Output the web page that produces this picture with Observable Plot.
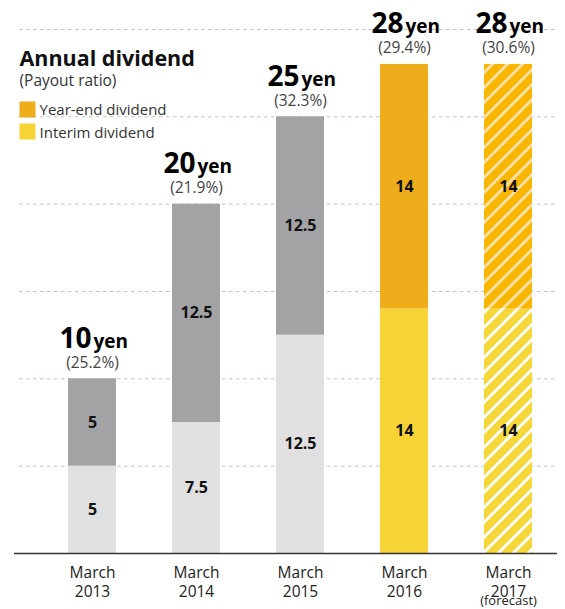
<!DOCTYPE html>
<html><head><meta charset="utf-8">
<script src="https://cdn.jsdelivr.net/npm/d3@7"></script>
<script src="https://cdn.jsdelivr.net/npm/@observablehq/plot@0.6"></script>
<style>body{margin:0;background:#fff;font-family:"Open Sans",sans-serif}</style>
</head><body><div id="chart"></div>
<script>
const categories = ["March\n2013", "March\n2014", "March\n2015", "March\n2016", "March\n2017"];
const interimDividend = [5, 7.5, 12.5, 14, 14];
const yearEndDividend = [5, 12.5, 12.5, 14, 14];
const annualDividend = [10, 20, 25, 28, 28];
const payoutRatio = ["(25.2%)", "(21.9%)", "(32.3%)", "(29.4%)", "(30.6%)"];
const forecastNote = ["", "", "", "", "(forecast)"];
const gridTicks = [5, 10, 15, 20, 25, 30];
const legendLabels = ["Year-end dividend", "Interim dividend"];
const titleText = "Annual dividend";
const subtitleText = "(Payout ratio)";
const unitText = "yen";

const FONT = "Open Sans";
const grayDark = "#a3a3a5", grayLight = "#e0e0e0", orange = "#eeae1c", yellow = "#f6d436";

const rows = categories.map((c, i) => ({
  cat: c, i,
  interim: interimDividend[i],
  yearEnd: yearEndDividend[i],
  total: annualDividend[i],
  payout: payoutRatio[i],
  note: forecastNote[i]
}));
const grayRows = rows.filter(d => d.i < 3);
const actualRows = rows.filter(d => d.i === 3);
const forecastRows = rows.filter(d => d.note !== "");

const segText = {fontFamily: FONT, fontWeight: "bold", fontSize: 16, fill: "#111"};

const plot = Plot.plot({
  width: 565, height: 609,
  marginLeft: 14, marginRight: 8, marginTop: 29, marginBottom: 56,
  style: {fontFamily: FONT, background: "#fff", overflow: "visible"},
  x: {domain: categories, paddingInner: 0.54, paddingOuter: 0.368, align: 0.688, axis: null},
  y: {domain: [0, 30], axis: null},
  marks: [
    Plot.ruleY(gridTicks, {stroke: "#cbbfbf", strokeDasharray: "3.5,3.5", insetLeft: 5}),
    // gray bars
    Plot.barY(grayRows, {x: "cat", y1: 0, y2: "interim", fill: grayLight}),
    Plot.barY(grayRows, {x: "cat", y1: "interim", y2: "total", fill: grayDark}),
    // actual colored
    Plot.barY(actualRows, {x: "cat", y1: 0, y2: "interim", fill: yellow}),
    Plot.barY(actualRows, {x: "cat", y1: "interim", y2: "total", fill: orange}),
    // forecast hatched
    Plot.barY(forecastRows, {x: "cat", y1: 0, y2: "interim", fill: "url(#hatchYellow)"}),
    Plot.barY(forecastRows, {x: "cat", y1: "interim", y2: "total", fill: "url(#hatchOrange)"}),
    Plot.ruleY([0], {stroke: "#333", strokeWidth: 1.6}),
    // segment labels
    Plot.text(rows, {x: "cat", y: d => d.interim / 2, text: d => String(d.interim), ...segText}),
    Plot.text(rows, {x: "cat", y: d => d.interim + d.yearEnd / 2, text: d => String(d.yearEnd), ...segText}),
    // totals
    Plot.text(rows, {x: "cat", y: "total", text: d => String(d.total), lineAnchor: "bottom", textAnchor: "end", dx: -1, dy: -31, fontFamily: FONT, fontWeight: "bold", fontSize: 28, fill: "#000"}),
    Plot.text(rows, {x: "cat", y: "total", text: () => unitText, lineAnchor: "bottom", textAnchor: "start", dx: 1, dy: -31, fontFamily: FONT, fontWeight: "bold", fontSize: 19, fill: "#000"}),
    Plot.text(rows, {x: "cat", y: "total", text: "payout", lineAnchor: "bottom", dy: -11, fontFamily: FONT, fontSize: 15.5, fill: "#444"}),
    // x labels
    Plot.text(rows, {x: "cat", text: "cat", frameAnchor: "bottom", lineAnchor: "top", dy: 11, fontFamily: FONT, fontSize: 15.5, lineHeight: 1.21, fill: "#222"}),
    Plot.text(forecastRows, {x: "cat", text: "note", frameAnchor: "bottom", lineAnchor: "bottom", dy: 51.5, fontFamily: FONT, fontSize: 13, fill: "#222"}),
    // title & legend
    Plot.text([titleText], {text: d => d, frameAnchor: "top-left", textAnchor: "start", lineAnchor: "bottom", dx: 5, dy: 36, fontFamily: FONT, fontWeight: "bold", fontSize: 21.5, fill: "#111"}),
    Plot.text([subtitleText], {text: d => d, frameAnchor: "top-left", textAnchor: "start", lineAnchor: "bottom", dx: 5, dy: 56, fontFamily: FONT, fontSize: 15.5, fill: "#333"}),
    Plot.dot([legendLabels[0]], {frameAnchor: "top-left", dx: 13, dy: 80, symbol: "square", r: 9.03, fill: orange}),
    Plot.dot([legendLabels[1]], {frameAnchor: "top-left", dx: 13, dy: 102, symbol: "square", r: 9.03, fill: yellow}),
    Plot.text([legendLabels[0]], {text: d => d, frameAnchor: "top-left", textAnchor: "start", lineAnchor: "bottom", dx: 25, dy: 85, fontFamily: FONT, fontSize: 15, fill: "#333"}),
    Plot.text([legendLabels[1]], {text: d => d, frameAnchor: "top-left", textAnchor: "start", lineAnchor: "bottom", dx: 25, dy: 108, fontFamily: FONT, fontSize: 15, fill: "#333"})
  ]
});

d3.select(plot).insert("defs", ":first-child").html(`
  <pattern id="hatchOrange" patternUnits="userSpaceOnUse" width="10.6" height="10.6" patternTransform="rotate(45)">
    <rect width="10.6" height="10.6" fill="#f9b600"></rect>
    <rect width="2.8" height="10.6" fill="#fde1ac"></rect>
  </pattern>
  <pattern id="hatchYellow" patternUnits="userSpaceOnUse" width="10.6" height="10.6" patternTransform="rotate(45)">
    <rect width="10.6" height="10.6" fill="#f6d73a"></rect>
    <rect width="2.8" height="10.6" fill="#ffffff"></rect>
  </pattern>`);

document.getElementById("chart").appendChild(plot);
</script>
</body></html>
